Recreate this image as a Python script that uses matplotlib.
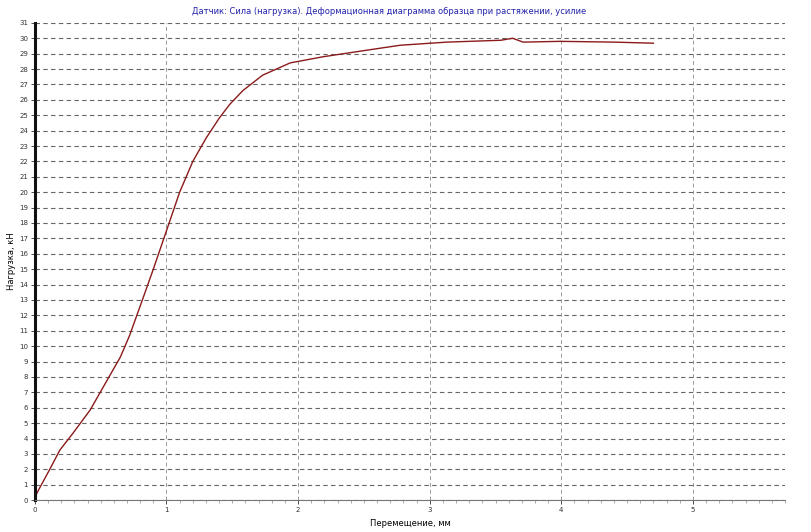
import numpy as np
import matplotlib
matplotlib.use("Agg")
import matplotlib.pyplot as plt
from matplotlib.ticker import MultipleLocator

# load vs displacement
displacement = [0.0, 0.015, 0.11, 0.19, 0.29, 0.42, 0.55, 0.65, 0.72, 0.80,
                0.90, 1.0, 1.10, 1.20, 1.30, 1.40, 1.48, 1.58, 1.73, 1.94,
                2.19, 2.62, 2.78, 3.13, 3.54, 3.63, 3.71, 3.99, 4.40, 4.70]
load = [0.0, 0.45, 1.95, 3.25, 4.35, 5.85, 7.8, 9.3, 10.7, 12.6,
        15.0, 17.5, 20.0, 22.0, 23.5, 24.8, 25.7, 26.6, 27.6, 28.4,
        28.8, 29.35, 29.55, 29.75, 29.87, 30.0, 29.75, 29.8, 29.75, 29.68]

title = "Датчик: Сила (нагрузка). Деформационная диаграмма образца при растяжении, усилие"
x_label = "Перемещение, мм"
y_label = "Нагрузка, кН"

fig = plt.figure(figsize=(8.11, 5.32), dpi=100)
ax = fig.add_axes([0.043, 0.06, 0.925, 0.897])

ax.plot(displacement, load, color="#8b1a1a", lw=1.0)

ax.set_xlim(0, 5.7)
ax.set_ylim(0, 31)
ax.xaxis.set_major_locator(MultipleLocator(1))
ax.xaxis.set_minor_locator(MultipleLocator(0.1))
ax.yaxis.set_major_locator(MultipleLocator(1))

ax.grid(axis="y", which="major", ls=(0, (4, 3)), color="#666666", lw=0.8)
ax.grid(axis="x", which="major", ls=(0, (4, 3)), color="#999999", lw=0.7)

for s in ("top", "right"):
    ax.spines[s].set_visible(False)
ax.spines["left"].set_linewidth(2.2)
ax.spines["left"].set_color("#111111")
ax.spines["bottom"].set_color("#777777")
ax.spines["bottom"].set_linewidth(0.8)

ax.tick_params(axis="both", labelsize=5, length=3, width=0.6, pad=2, colors="#333333")
ax.tick_params(axis="x", which="minor", length=2, width=0.5, colors="#888888")

ax.set_xlabel(x_label, fontsize=6, labelpad=4)
ax.set_ylabel(y_label, fontsize=6, labelpad=2)
fig.text(0.48, 0.978, title, ha="center", va="center", fontsize=6, color="#2222aa")

fig.savefig("out.png", dpi=100)
